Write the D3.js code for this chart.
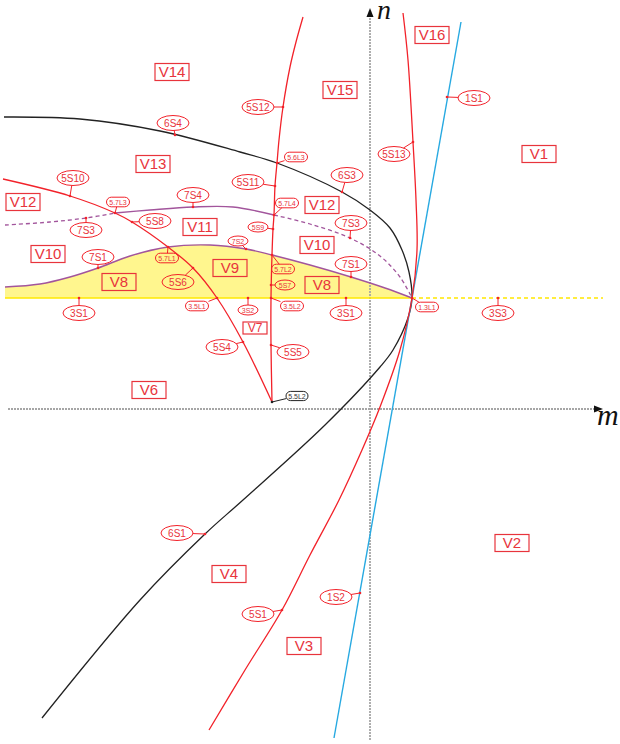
<!DOCTYPE html>
<html>
<head>
<meta charset="utf-8">
<script src="https://cdn.jsdelivr.net/npm/d3@7"></script>
<style>
  body { margin: 0; background: #fff; }
  svg { display: block; }
</style>
</head>
<body>
<svg id="chart" width="620" height="744"></svg>
<script>
// Bifurcation set in the (m, n) parameter plane.

// Fold / transversal curves, as sampled (m, n) points
const curve6S = [[-3.66, 2.92], [-2.90, 2.90], [-2.10, 2.78], [-1.30, 2.57], [-0.93, 2.46],
  [-0.28, 2.17], [0.00, 1.99], [0.20, 1.81], [0.32, 1.59], [0.39, 1.37], [0.42, 1.11],
  [0.38, 0.91], [0.23, 0.59], [0.10, 0.42], [-0.45, -0.16], [-1.27, -0.91], [-1.65, -1.25],
  [-2.30, -1.91], [-3.28, -3.09]];

const curve5SLeft = [[-3.67, 2.30], [-3.00, 2.13], [-2.55, 1.96], [-2.38, 1.87], [-2.02, 1.62],
  [-1.77, 1.41], [-1.53, 1.11], [-1.27, 0.67], [-0.98, 0.07]];

const curve5SVert = [[-0.98, 0.07], [-0.99, 0.64], [-0.99, 1.11], [-0.98, 1.54], [-0.97, 1.80],
  [-0.96, 1.94], [-0.95, 2.23], [-0.93, 2.46], [-0.91, 2.69], [-0.87, 3.02], [-0.80, 3.42],
  [-0.74, 3.67], [-0.67, 3.92]];

const curve5SRight = [[0.33, 3.96], [0.38, 3.49], [0.43, 2.67], [0.46, 2.09], [0.47, 1.59],
  [0.42, 1.11], [0.30, 0.59], [0.10, 0.02], [-0.08, -0.41], [-0.31, -0.91], [-0.60, -1.46],
  [-0.88, -2.01], [-1.25, -2.61], [-1.61, -3.21]];

const line1S = [[0.91, 3.87], [-0.36, -3.29]];

const curve7SUpperDashL = [[-3.65, 1.84], [-3.20, 1.87], [-2.84, 1.91], [-2.55, 1.96]];
const curve7SUpper = [[-2.55, 1.96], [-2.20, 1.99], [-1.77, 2.02], [-1.37, 2.02], [-0.96, 1.94]];
const curve7SUpperDashR = [[-0.96, 1.94], [-0.60, 1.85], [-0.20, 1.71], [0.10, 1.53],
  [0.30, 1.32], [0.42, 1.11]];

const curve7SLower = [[-3.65, 1.22], [-3.30, 1.25], [-3.00, 1.32], [-2.72, 1.41], [-2.40, 1.53],
  [-2.02, 1.62], [-1.60, 1.64], [-1.24, 1.60], [-0.98, 1.54], [-0.60, 1.44], [-0.19, 1.32],
  [0.15, 1.21], [0.42, 1.11]];

// Horizontal 3S line n = 1.11: solid left of the 1.3L1 point, dashed to the right
const line3SLevel = 1.11;
const line3SSolid = [-3.65, 0.42];
const line3SDashed = [0.42, 2.33];

// Axis extents
const axisM = [-3.62, 2.33];
const axisN = [-3.31, 4.01];

// Region names
const regions = [
  ["V14", -1.98, 3.37], ["V15", -0.30, 3.19], ["V16", 0.62, 3.74], ["V1", 1.69, 2.55],
  ["V13", -2.17, 2.45], ["V12", -3.47, 2.07], ["V11", -1.70, 1.82], ["V12", -0.48, 2.04],
  ["V10", -3.22, 1.55], ["V10", -0.53, 1.64], ["V8", -2.51, 1.27], ["V9", -1.40, 1.41],
  ["V8", -0.48, 1.24], ["V7", -1.15, 0.81], ["V6", -2.21, 0.19], ["V2", 1.42, -1.34],
  ["V4", -1.41, -1.65], ["V3", -0.66, -2.37]
];

// Curve / point tags: name, point on the curve (m, n), tag centre (m, n), tag kind
// kind: e = curve tag, s = small curve tag, p = point tag, k = degenerate point tag
const tags = [
  ["6S4", -1.95, 2.74, -1.97, 2.86, "e"],
  ["5S10", -3.00, 2.13, -2.97, 2.31, "e"],
  ["5.7L3", -2.55, 1.96, -2.52, 2.07, "p"],
  ["7S4", -1.77, 2.02, -1.77, 2.14, "e"],
  ["5S8", -2.38, 1.87, -2.15, 1.88, "e"],
  ["7S3", -2.84, 1.91, -2.84, 1.79, "e"],
  ["7S1", -2.72, 1.41, -2.72, 1.52, "e"],
  ["5.7L1", -2.02, 1.62, -2.03, 1.51, "p"],
  ["5S6", -1.77, 1.41, -1.92, 1.27, "e"],
  ["3.5L1", -1.53, 1.11, -1.73, 1.03, "p"],
  ["3S1", -2.91, 1.11, -2.91, 0.96, "e"],
  ["3S2", -1.22, 1.11, -1.22, 0.99, "s"],
  ["7S2", -1.24, 1.60, -1.32, 1.68, "s"],
  ["5S9", -0.97, 1.80, -1.12, 1.82, "s"],
  ["5.7L4", -0.96, 1.94, -0.83, 2.06, "p"],
  ["5.7L2", -0.98, 1.54, -0.87, 1.40, "p"],
  ["5S7", -0.99, 1.24, -0.85, 1.24, "s"],
  ["3.5L2", -0.99, 1.11, -0.78, 1.03, "p"],
  ["5S11", -0.95, 2.23, -1.22, 2.27, "e"],
  ["5.6L3", -0.93, 2.46, -0.74, 2.52, "p"],
  ["5S12", -0.87, 3.02, -1.12, 3.02, "e"],
  ["6S3", -0.28, 2.17, -0.23, 2.34, "e"],
  ["5S13", 0.43, 2.67, 0.24, 2.55, "e"],
  ["1S1", 0.77, 3.12, 1.04, 3.11, "e"],
  ["7S3", -0.20, 1.71, -0.19, 1.86, "e"],
  ["7S1", -0.19, 1.32, -0.19, 1.45, "e"],
  ["3S1", -0.24, 1.11, -0.24, 0.96, "e"],
  ["1.3L1", 0.42, 1.11, 0.57, 1.02, "p"],
  ["3S3", 1.28, 1.11, 1.28, 0.96, "e"],
  ["5S4", -1.27, 0.67, -1.48, 0.62, "e"],
  ["5S5", -0.99, 0.64, -0.77, 0.57, "e"],
  ["5.5L2", -0.98, 0.07, -0.73, 0.13, "k"],
  ["6S1", -1.65, -1.25, -1.93, -1.24, "e"],
  ["5S1", -0.88, -2.01, -1.12, -2.05, "e"],
  ["1S2", -0.10, -1.84, -0.34, -1.88, "e"]
];

const W = 620, H = 744;
const svg = d3.select("#chart");
const x = d3.scaleLinear().domain([-3.7, 2.5]).range([0, W]);
const y = d3.scaleLinear().domain([4.09, -3.35]).range([0, H]);

const RED = "#f2222a", LABEL = "#e8343c", PURPLE = "#a2559c", BLACK = "#222",
      BLUE = "#27a9e1", YELLOW = "#ffe800", FILL = "#fff68e", AXIS = "#a6a6a6";

const line = d3.line().x(d => x(d[0])).y(d => y(d[1])).curve(d3.curveCatmullRom.alpha(0.5));

// Yellow band between the lower 7S curve and the 3S level
svg.append("path")
  .datum(curve7SLower)
  .attr("d", d3.area().x(d => x(d[0])).y0(y(line3SLevel)).y1(d => y(d[1]))
    .curve(d3.curveCatmullRom.alpha(0.5)))
  .attr("fill", FILL);

// Axes
const axes = svg.append("g").attr("stroke", AXIS).attr("stroke-width", 1.8)
  .attr("stroke-dasharray", "2,1");
axes.append("line").attr("x1", x(axisM[0])).attr("x2", x(axisM[1]) - 4)
  .attr("y1", y(0)).attr("y2", y(0));
axes.append("line").attr("x1", x(0)).attr("x2", x(0))
  .attr("y1", y(axisN[0])).attr("y2", y(axisN[1]) + 4);
const ax = x(axisM[1]), ay = y(0);
svg.append("path").attr("d", `M${ax},${ay}L${ax - 9},${ay - 3.5}L${ax - 9},${ay + 3.5}Z`)
  .attr("fill", "#111");
const nx = x(0), ny = y(axisN[1]);
svg.append("path").attr("d", `M${nx},${ny}L${nx - 3.5},${ny + 9}L${nx + 3.5},${ny + 9}Z`)
  .attr("fill", "#111");
svg.append("text").attr("x", ax - 6).attr("y", ay + 16).text("m")
  .attr("font-family", "'Liberation Serif', 'DejaVu Serif', serif")
  .attr("font-style", "italic").attr("font-size", 30).attr("fill", "#111");
svg.append("text").attr("x", nx + 7).attr("y", ny + 11).text("n")
  .attr("font-family", "'Liberation Serif', 'DejaVu Serif', serif")
  .attr("font-style", "italic").attr("font-size", 28).attr("fill", "#111");

// 3S level line
svg.append("line").attr("x1", x(line3SSolid[0])).attr("x2", x(line3SSolid[1]))
  .attr("y1", y(line3SLevel)).attr("y2", y(line3SLevel))
  .attr("stroke", YELLOW).attr("stroke-width", 1.6);
svg.append("line").attr("x1", x(line3SDashed[0])).attr("x2", x(line3SDashed[1]))
  .attr("y1", y(line3SLevel)).attr("y2", y(line3SLevel))
  .attr("stroke", YELLOW).attr("stroke-width", 1.4).attr("stroke-dasharray", "4,3");

// Curves
function drawCurve(data, color, width, dash) {
  const p = svg.append("path").datum(data).attr("d", line)
    .attr("fill", "none").attr("stroke", color).attr("stroke-width", width);
  if (dash) p.attr("stroke-dasharray", dash);
}
drawCurve(curve7SUpperDashL, PURPLE, 1.3, "4,3");
drawCurve(curve7SUpperDashR, PURPLE, 1.3, "4,3");
drawCurve(curve7SUpper, PURPLE, 1.4);
drawCurve(curve7SLower, PURPLE, 1.4);
drawCurve(curve6S, BLACK, 1.3);
drawCurve(line1S, BLUE, 1.4);
drawCurve(curve5SLeft, RED, 1.3);
drawCurve(curve5SVert, RED, 1.3);
drawCurve(curve5SRight, RED, 1.3);

// Region boxes
const fontSans = "'Liberation Sans', Arial, sans-serif";
regions.forEach(([name, m, n]) => {
  const small = name === "V7";
  const w = small ? 24 : 34, h = small ? 12 : 17;
  const g = svg.append("g").attr("transform", `translate(${x(m)},${y(n)})`);
  g.append("rect").attr("x", -w / 2).attr("y", -h / 2).attr("width", w).attr("height", h)
    .attr("fill", "none").attr("stroke", LABEL).attr("stroke-width", 1.2);
  g.append("text").text(name).attr("text-anchor", "middle").attr("dy", "0.36em")
    .attr("font-family", fontSans).attr("font-size", small ? 12 : 15).attr("fill", LABEL);
});

// Curve and point tags with leader lines
const tagSize = { e: [16, 7.5, 10], s: [10, 5, 7], p: [11.5, 4.8, 7], k: [11, 4.6, 7] };
tags.forEach(([name, am, an, lm, ln, kind]) => {
  const [rx, ry, fs] = tagSize[kind];
  const color = kind === "k" ? BLACK : RED;
  const cx = x(lm), cy = y(ln), px = x(am), py = y(an);
  const dx = px - cx, dy = py - cy;
  let t;
  if (kind === "e" || kind === "s") t = 1 / Math.sqrt((dx / rx) ** 2 + (dy / ry) ** 2);
  else t = Math.min(dx ? rx / Math.abs(dx) : Infinity, dy ? ry / Math.abs(dy) : Infinity);
  svg.append("line").attr("x1", px).attr("y1", py)
    .attr("x2", cx + dx * t).attr("y2", cy + dy * t)
    .attr("stroke", color).attr("stroke-width", 1);
  svg.append("circle").attr("cx", px).attr("cy", py).attr("r", 1.3).attr("fill", color);
  if (kind === "e" || kind === "s") {
    svg.append("ellipse").attr("cx", cx).attr("cy", cy).attr("rx", rx).attr("ry", ry)
      .attr("fill", "none").attr("stroke", RED).attr("stroke-width", 1);
  } else {
    svg.append("rect").attr("x", cx - rx).attr("y", cy - ry).attr("width", 2 * rx)
      .attr("height", 2 * ry).attr("rx", ry).attr("ry", ry)
      .attr("fill", "none").attr("stroke", color).attr("stroke-width", 1);
  }
  svg.append("text").attr("x", cx).attr("y", cy).attr("dy", "0.36em").text(name)
    .attr("text-anchor", "middle").attr("font-family", fontSans).attr("font-size", fs)
    .attr("fill", kind === "k" ? "#333" : LABEL);
});
</script>
</body>
</html>
